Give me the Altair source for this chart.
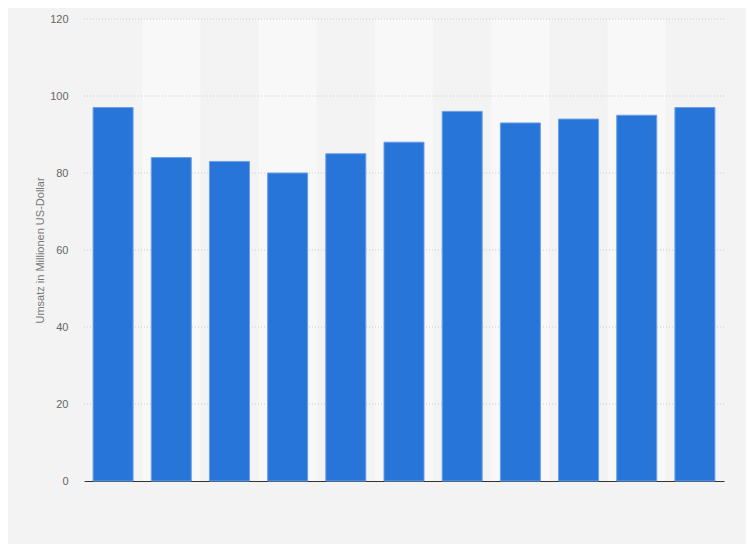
import altair as alt
import pandas as pd

categories = ["2008", "2009", "2010", "2011", "2012", "2013", "2014", "2015", "2016", "2017", "2018"]
values = [97, 84, 83, 80, 85, 88, 96, 93, 94, 95, 97]
y_ticks = [0, 20, 40, 60, 80, 100, 120]

df = pd.DataFrame({"cat": categories, "value": values})
grid_df = pd.DataFrame({"tick": y_ticks[1:]})

W, H = 640, 462
FONT = "Liberation Sans"

yscale = alt.Scale(domain=[0, 120], nice=False)
yaxis = alt.Axis(title="Umsatz in Millionen US-Dollar", values=y_ticks,
                 grid=False, domain=False, ticks=False,
                 labelPadding=16, labelColor="#666666", labelFontSize=11,
                 labelFont=FONT, titleFont=FONT, titleFontSize=11,
                 titleFontWeight="normal", titleColor="#777777",
                 titlePadding=4)

bands = (
    alt.Chart(df)
    .transform_window(idx="row_number()")
    .transform_filter("datum.idx % 2 == 0")
    .mark_rect(color="#f8f8f8")
    .encode(
        x=alt.X("cat:N", sort=categories,
                scale=alt.Scale(domain=categories, paddingInner=0, paddingOuter=0),
                axis=None),
        y=alt.value(0),
        y2=alt.value(H),
    )
)

grid = (
    alt.Chart(grid_df)
    .mark_rule(color="#cccccc", strokeDash=[1, 2], strokeWidth=1)
    .encode(
        y=alt.Y("tick:Q", scale=yscale, axis=yaxis),
        x=alt.value(0),
        x2=alt.value(W),
    )
)

bars = (
    alt.Chart(df)
    .mark_bar(color="#2775d9", stroke="#6a9fe6", strokeWidth=1)
    .encode(
        x=alt.X("cat:N", sort=categories,
                scale=alt.Scale(domain=categories, paddingInner=0.3125, paddingOuter=0.15625),
                axis=alt.Axis(title=None, labels=False, ticks=False, domain=True,
                              domainColor="#333333", domainWidth=1)),
        y=alt.Y("value:Q", scale=yscale, axis=yaxis),
    )
)

chart = (
    alt.layer(bands, grid, bars)
    .resolve_scale(x="independent")
    .properties(
        width=W, height=H,
        background="#f3f3f3",
        autosize=alt.AutoSizeParams(type="none"),
        padding={"left": 76, "top": 11, "right": 22, "bottom": 63},
    )
    .configure_view(stroke=None, fill="#f3f3f3")
)

chart.save("out.html", embed_options={"renderer": "svg", "actions": False})
